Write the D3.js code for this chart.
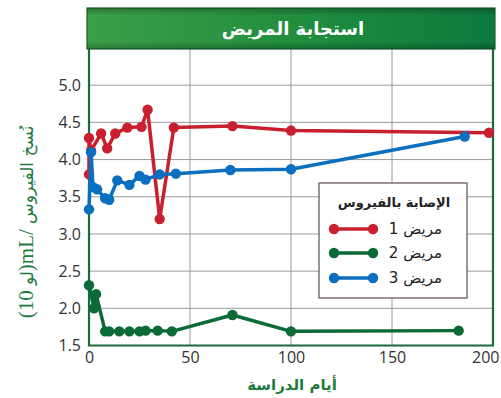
<!DOCTYPE html>
<html>
<head>
<meta charset="utf-8">
<script src="https://cdn.jsdelivr.net/npm/d3@7"></script>
<style>
  html, body { margin: 0; padding: 0; background: #fff; }
  svg { display: block; }
</style>
</head>
<body>
<svg id="chart" width="501" height="398"></svg>
<script>
// Viral load (log10 copies/mL) by study day for three patients
const patient1Days = [0, 0, 1, 6, 9, 13, 19, 26, 29, 35, 42, 71, 100, 198];
const patient1Load = [3.8, 4.29, 4.12, 4.35, 4.15, 4.35, 4.43, 4.44, 4.67, 3.2, 4.43, 4.45, 4.39, 4.36];

const patient2Days = [0, 2.5, 3.5, 8, 10, 15, 20, 25, 28, 34, 41, 71, 100, 183];
const patient2Load = [2.31, 2.0, 2.19, 1.69, 1.69, 1.69, 1.69, 1.69, 1.7, 1.7, 1.69, 1.91, 1.69, 1.7];

const patient3Days = [0, 1, 2, 4, 8, 10, 14, 20, 25, 28, 35, 43, 70, 100, 186];
const patient3Load = [3.33, 4.1, 3.63, 3.6, 3.48, 3.46, 3.72, 3.66, 3.78, 3.73, 3.8, 3.81, 3.86, 3.87, 4.31];

const xTicks = [0, 50, 100, 150, 200];
const yTicks = [1.5, 2.0, 2.5, 3.0, 3.5, 4.0, 4.5, 5.0];
const gridX = [50, 100, 150];
const gridY = [2.0, 2.5, 3.0, 3.5, 4.0, 4.5, 5.0];

const seriesNames = ["مريض 1", "مريض 2", "مريض 3"];
const seriesColors = ["#c8202f", "#0b6a36", "#0a6fbf"];
const titleText = "استجابة المريض";
const legendTitle = "الإصابة بالفيروس";
const xLabel = "أيام الدراسة";

const series = [
  { days: patient1Days, load: patient1Load },
  { days: patient2Days, load: patient2Load },
  { days: patient3Days, load: patient3Load }
];

const svg = d3.select("#chart");
const plotLeft = 89, plotRight = 493, plotTop = 48, plotBottom = 345.5;
const frameColor = "#1a6b3a";

const x = d3.scaleLinear().domain([0, 200]).range([plotLeft, plotRight]);
const y = d3.scaleLinear().domain([1.5, 5.5]).range([plotBottom, plotTop]);

// Gridlines
svg.append("g").selectAll("line").data(gridY).join("line")
  .attr("x1", plotLeft).attr("x2", plotRight)
  .attr("y1", d => y(d)).attr("y2", d => y(d))
  .attr("stroke", "#9a9a9a").attr("stroke-width", 1);
svg.append("g").selectAll("line").data(gridX).join("line")
  .attr("x1", d => x(d)).attr("x2", d => x(d))
  .attr("y1", plotTop).attr("y2", plotBottom)
  .attr("stroke", "#9a9a9a").attr("stroke-width", 1);

// Axis tick labels
const xAxis = svg.append("g")
  .attr("transform", `translate(0,${plotBottom})`)
  .call(d3.axisBottom(x).tickValues(xTicks).tickFormat(d3.format("d")).tickSize(0).tickPadding(6));
const yAxis = svg.append("g")
  .attr("transform", `translate(${plotLeft},0)`)
  .call(d3.axisLeft(y).tickValues(yTicks).tickFormat(d3.format(".1f")).tickSize(0).tickPadding(8));
[xAxis, yAxis].forEach(g => {
  g.select(".domain").remove();
  g.selectAll("text")
    .attr("font-family", "'Open Sans', 'Noto Sans', sans-serif")
    .attr("font-size", 16)
    .attr("fill", "#333");
});
// keep the last x label inside the page edge
xAxis.selectAll(".tick").filter(d => d === 200).select("text")
  .attr("text-anchor", "end").attr("dx", 6);

// Frame: left, bottom, right
svg.append("path")
  .attr("d", `M${plotLeft},${plotTop}V${plotBottom}H${plotRight}V${plotTop}`)
  .attr("fill", "none").attr("stroke", frameColor).attr("stroke-width", 2.2);

// Title banner
const defs = svg.append("defs");
const grad = defs.append("linearGradient").attr("id", "banner").attr("x1", 0).attr("x2", 1).attr("y1", 0).attr("y2", 0);
grad.append("stop").attr("offset", "0%").attr("stop-color", "#3d9e48");
grad.append("stop").attr("offset", "45%").attr("stop-color", "#23903f");
grad.append("stop").attr("offset", "100%").attr("stop-color", "#0c7a3c");
const shade = defs.append("linearGradient").attr("id", "bannerShade").attr("x1", 0).attr("x2", 0).attr("y1", 0).attr("y2", 1);
shade.append("stop").attr("offset", "0%").attr("stop-color", "#000").attr("stop-opacity", 0.25);
shade.append("stop").attr("offset", "18%").attr("stop-color", "#000").attr("stop-opacity", 0);
shade.append("stop").attr("offset", "82%").attr("stop-color", "#000").attr("stop-opacity", 0);
shade.append("stop").attr("offset", "100%").attr("stop-color", "#000").attr("stop-opacity", 0.25);

svg.append("rect").attr("x", 87).attr("y", 8).attr("width", 408).attr("height", plotTop - 8 + 1)
  .attr("fill", "url(#banner)").attr("stroke", "#1c5f2e").attr("stroke-width", 1.2);
svg.append("rect").attr("x", 87).attr("y", 8).attr("width", 408).attr("height", plotTop - 8 + 1)
  .attr("fill", "url(#bannerShade)");
svg.append("text")
  .attr("x", 293).attr("y", 35)
  .attr("text-anchor", "middle")
  .attr("font-family", "'DejaVu Sans', sans-serif")
  .attr("font-weight", "bold").attr("font-size", 18)
  .attr("fill", "#fff")
  .text(titleText);

// Series lines and markers
const line = d3.line().x(d => x(d[0])).y(d => y(d[1]));
series.forEach((s, i) => {
  const pts = s.days.map((d, j) => [d, s.load[j]]);
  const g = svg.append("g");
  g.append("path").datum(pts)
    .attr("d", line)
    .attr("fill", "none")
    .attr("stroke", seriesColors[i])
    .attr("stroke-width", 3.5)
    .attr("stroke-linejoin", "round");
  g.selectAll("circle").data(pts).join("circle")
    .attr("cx", d => x(d[0])).attr("cy", d => y(d[1]))
    .attr("r", 5.2)
    .attr("fill", seriesColors[i]);
});

// Legend
const lg = svg.append("g");
lg.append("rect").attr("x", 319).attr("y", 183).attr("width", 148).attr("height", 115)
  .attr("fill", "#fff").attr("stroke", "#6b5b57").attr("stroke-width", 1.3);
lg.append("text")
  .attr("x", 394).attr("y", 207)
  .attr("text-anchor", "middle")
  .attr("font-family", "'DejaVu Sans', sans-serif")
  .attr("font-weight", "bold").attr("font-size", 13)
  .attr("fill", "#222")
  .text(legendTitle);
const legendRows = [229, 253, 278];
seriesNames.forEach((name, i) => {
  const ly = legendRows[i];
  lg.append("line").attr("x1", 334).attr("x2", 373).attr("y1", ly).attr("y2", ly)
    .attr("stroke", seriesColors[i]).attr("stroke-width", 3.5);
  [334, 373].forEach(cx => lg.append("circle").attr("cx", cx).attr("cy", ly).attr("r", 5.2).attr("fill", seriesColors[i]));
  lg.append("text")
    .attr("x", 442).attr("y", ly + 5)
    .attr("direction", "rtl")
    .attr("text-anchor", "start")
    .attr("font-family", "'DejaVu Sans', 'Liberation Serif', serif")
    .attr("font-size", 15)
    .attr("fill", "#222")
    .text(name);
});

// Axis titles
svg.append("text")
  .attr("x", 292).attr("y", 390)
  .attr("text-anchor", "middle")
  .attr("font-family", "'DejaVu Sans', sans-serif")
  .attr("font-weight", "bold").attr("font-size", 15)
  .attr("fill", "#1f7a3f")
  .text(xLabel);

const yl = svg.append("text")
  .attr("transform", "translate(33,222) rotate(-90)")
  .attr("text-anchor", "middle")
  .attr("direction", "ltr")
  .attr("fill", "#1f7a3f")
  .attr("font-size", 21);
yl.append("tspan").attr("font-family", "'Liberation Serif', serif").text("(10 ");
yl.append("tspan").attr("font-family", "'DejaVu Sans', sans-serif").attr("font-size", 17).text("لو");
yl.append("tspan").attr("font-family", "'Liberation Serif', serif").text(")mL/ ");
yl.append("tspan").attr("font-family", "'DejaVu Sans', sans-serif").attr("font-size", 17).text("نُسخ الفيروس");
</script>
</body>
</html>
